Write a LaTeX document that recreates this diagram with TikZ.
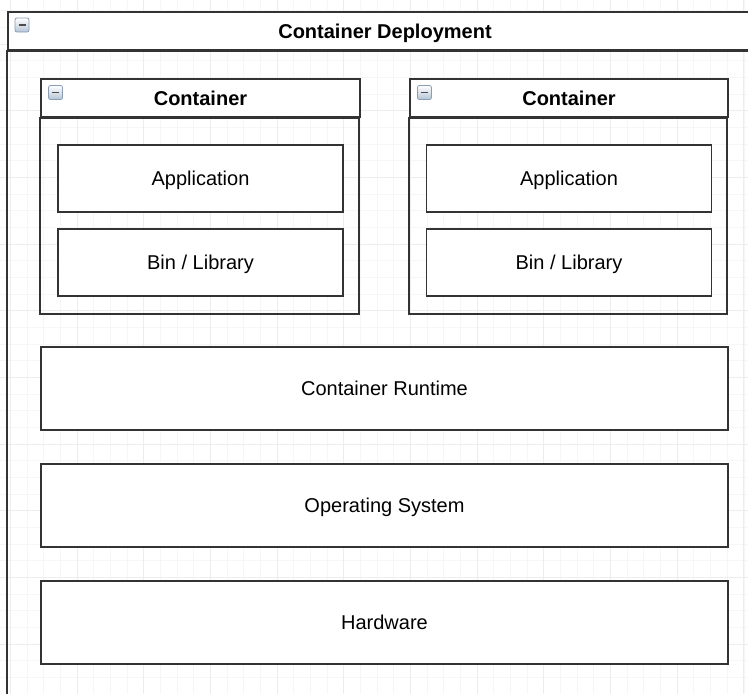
\documentclass[tikz,border=0pt]{standalone}
\usepackage{fontspec}
\setmainfont{Liberation Sans}
\usetikzlibrary{positioning}
\definecolor{vonal}{HTML}{333333}
\definecolor{gombkek}{HTML}{B4C4D6}
\definecolor{gombszel}{HTML}{8A9DB3}
\newcommand{\betu}{\fontsize{20}{24}\selectfont}
\tikzset{
  halo/.style={draw=gray!7,line width=0.7pt},
  fohalo/.style={draw=gray!14,line width=0.7pt},
  keret/.style={draw=vonal,line width=1.6pt},
  szov/.style={inner sep=0pt,text height=14pt,text depth=0pt},
  fej/.style={keret,szov,fill=white,minimum height=38pt,font=\betu\bfseries},
  doboz/.style={keret,szov,fill=white,minimum width=285pt,minimum height=67pt},
  reteg/.style={keret,szov,fill=white,minimum width=687pt,minimum height=83pt},
  gomb/.style={draw=gombszel,line width=0.8pt,rounded corners=2pt,top color=white,
    bottom color=gombkek,minimum size=14pt,inner sep=0pt,
    path picture={\draw[line width=1.6pt,black!70]
      ([xshift=3.5pt]path picture bounding box.west) --
      ([xshift=-3.5pt]path picture bounding box.east);}},
}

\begin{document}
\begin{tikzpicture}[x=1pt,y=-1pt,font=\betu]
  \useasboundingbox[fill=white] (0,0) rectangle (748,694);
  % racs
  \foreach \i in {0,...,45} \draw[halo] ({-6.17+\i*16.667},0) -- ++(0,694);
  \foreach \j in {0,...,42} \draw[halo] (0,{-6+\j*16.667}) -- ++(748,0);
  \foreach \i in {0,...,11} \draw[fohalo] ({10.5+\i*66.667},0) -- ++(0,694);
  \foreach \j in {-1,...,10} \draw[fohalo] (0,{44+\j*66.667}) -- ++(748,0);

  % kulso tarolo
  \node[fej,minimum width=754pt] (telep) at (385,31) {Container Deployment};
  \draw[keret] (telep.south west) rectangle (762,720);
  \node[gomb] (g0) at (22,25) {};

  % kontenerek
  \node[fej,minimum width=319pt] (bal) at (200.5,98) {Container};
  \draw[keret] (bal.south west) rectangle ++(319,196);
  \node[gomb] (g1) at (55.5,92.5) {};
  \node[doboz] (app1) at (200.5,178.5) {Application};
  \node[doboz] (bin1) at (200.5,262.5) {Bin / Library};

  \node[fej,minimum width=318pt] (jobb) at (569,98) {Container};
  \draw[keret] (jobb.south west) rectangle ++(318,196);
  \node[gomb] (g2) at (424.5,92.5) {};
  \node[doboz] (app2) at (569,178.5) {Application};
  \node[doboz] (bin2) at (569,262.5) {Bin / Library};

  % retegek
  \node[reteg] (runtime) at (384.5,388.5) {Container Runtime};
  \node[reteg] (os) at (384.5,505.5) {Operating System};
  \node[reteg] (hw) at (384.5,622.5) {Hardware};
\end{tikzpicture}
\end{document}
